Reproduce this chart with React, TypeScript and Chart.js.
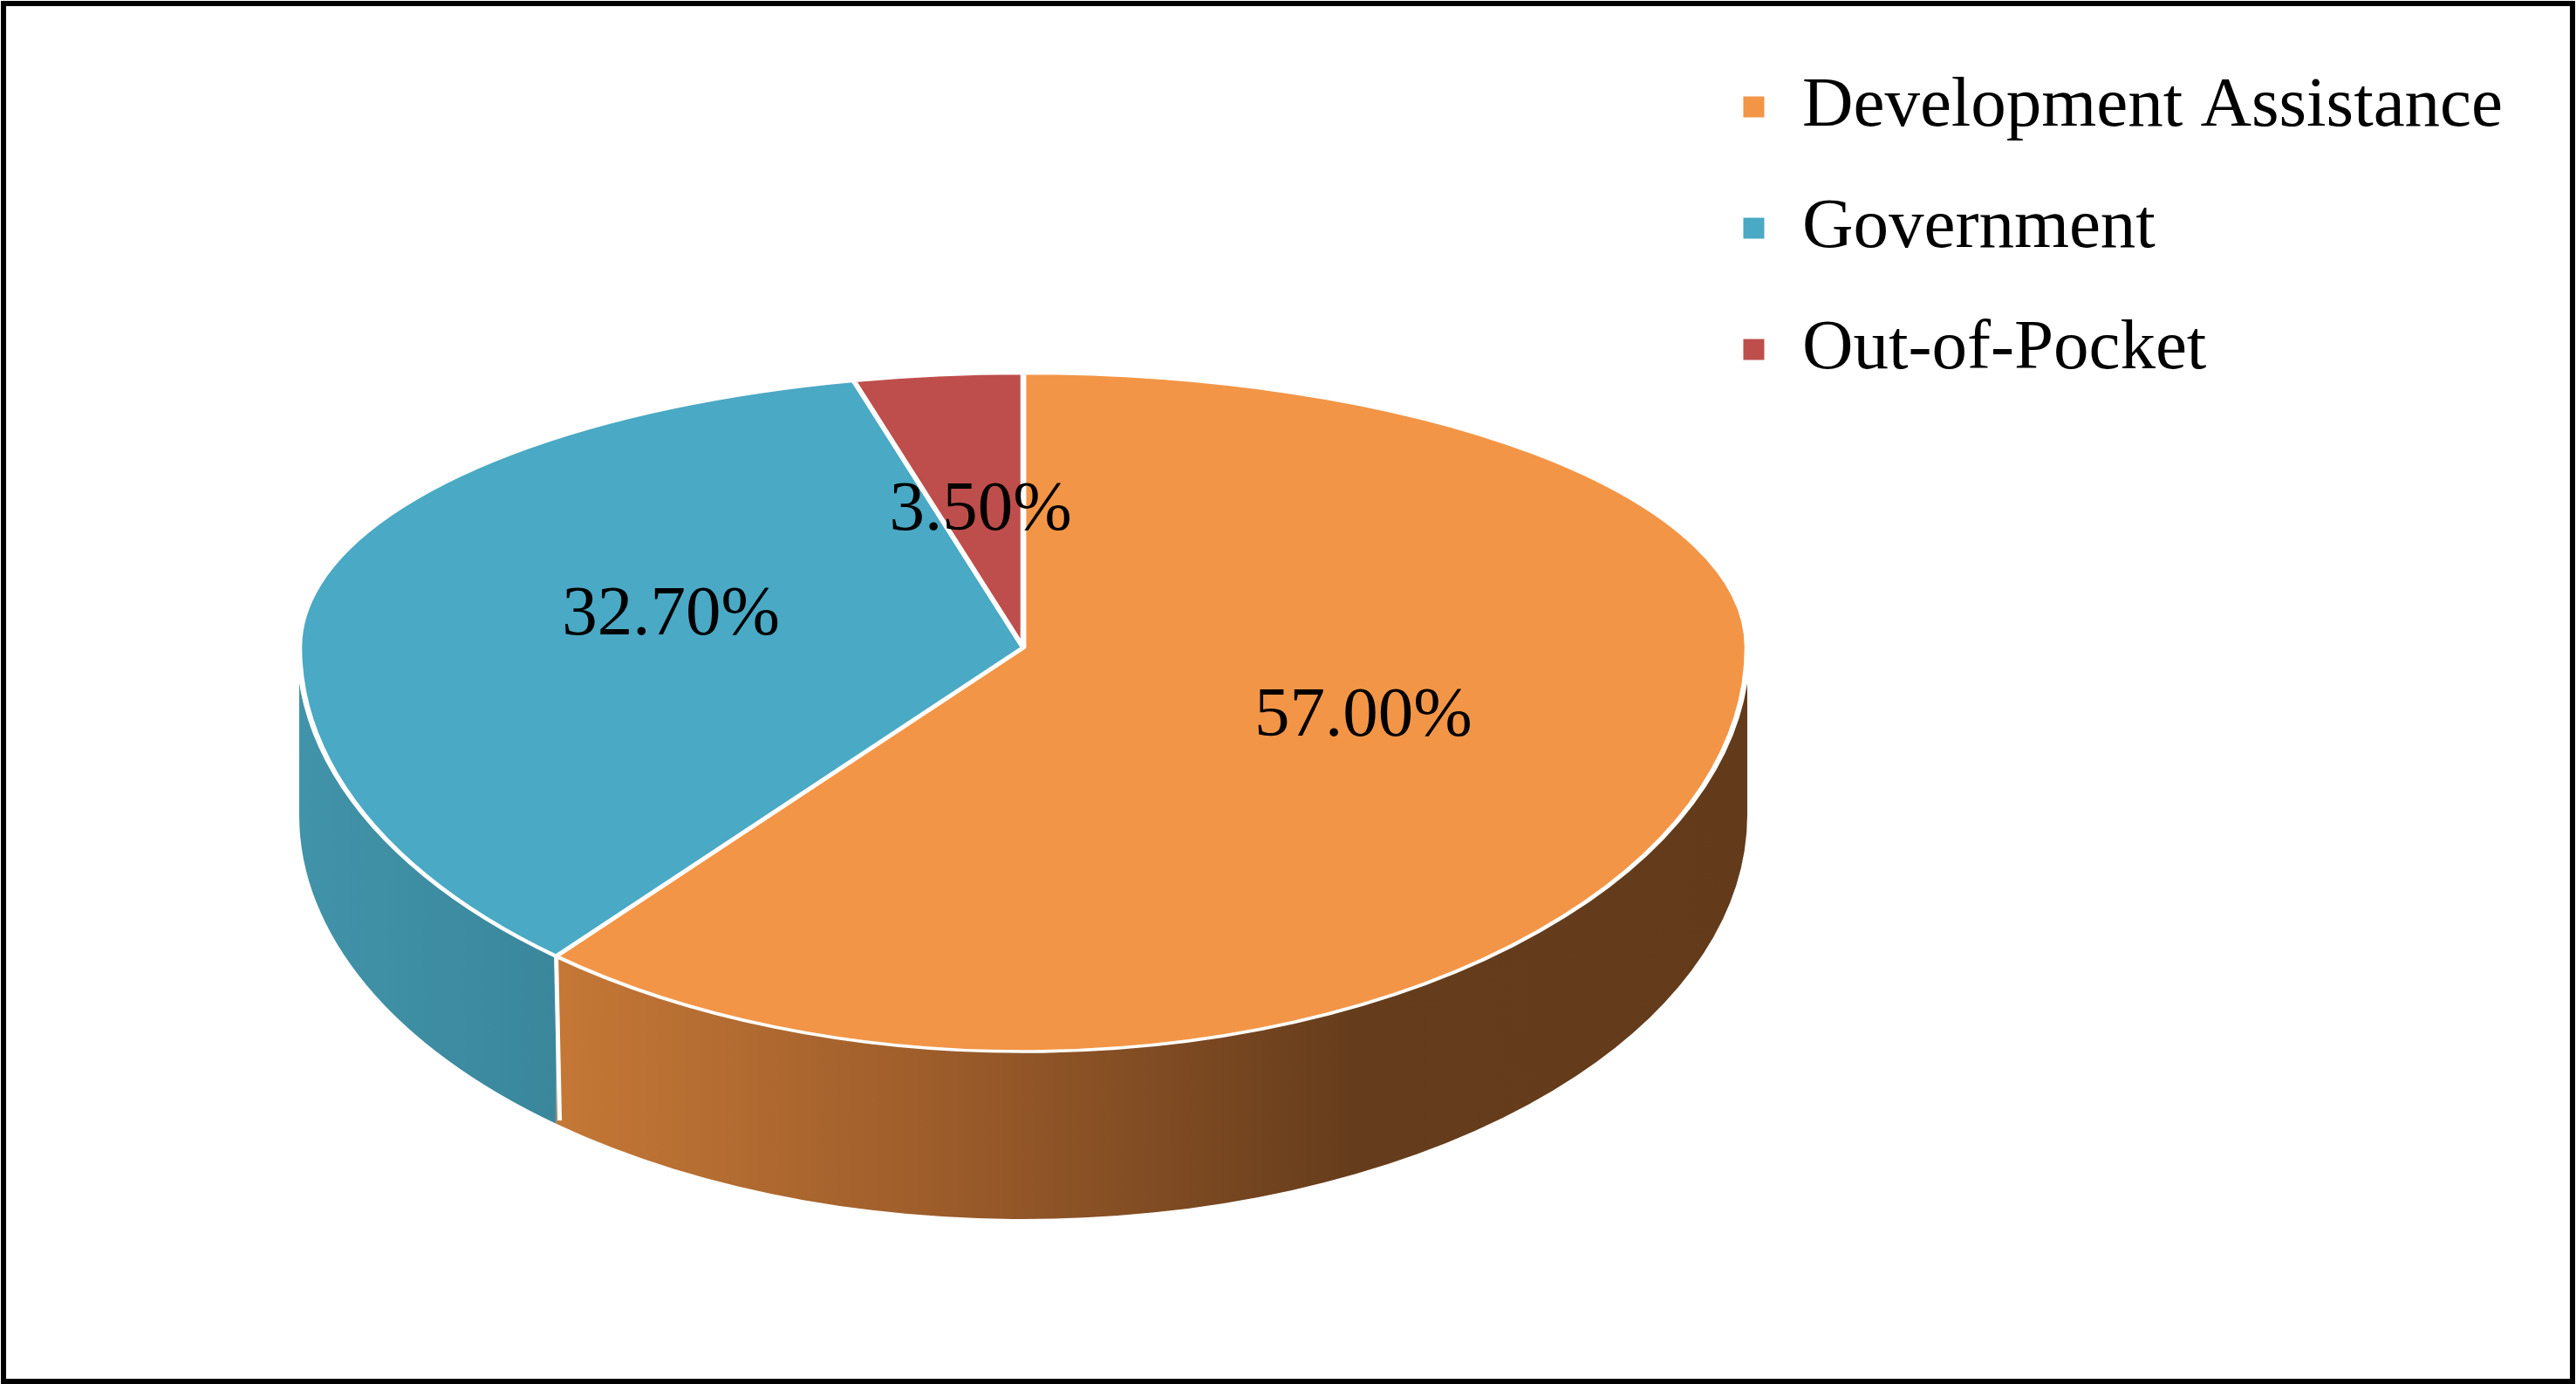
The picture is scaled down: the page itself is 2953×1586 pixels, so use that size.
import React, { useEffect, useRef } from 'react';
import Chart from 'chart.js/auto';

const categories = ['Development Assistance', 'Government', 'Out-of-Pocket'];
const shares = [57.0, 32.7, 3.5];
const topColors = ['#F39546', '#4AA9C4', '#BE4E4C'];
// colours of the visible rim, left to right
const sideColors = [
  ['#C57836', '#9B5B2A', '#663D1C', '#633B1B'],
  ['#4193A9', '#3A879C'],
  ['#8E3A38', '#7A3230'],
];

const W = 2953;
const H = 1586;
const FONT = '"Liberation Serif", "Times New Roman", serif';

// where the tilted pie sits on the page (back half is flatter than the front)
const PIE = { cx: 1173, cy: 742, rx: 830, ryBack: 314, ryFront: 463, depth: 192 };

const tiltPlugin = {
  id: 'tilt',
  beforeDatasetsDraw(chart: any) {
    const ctx: CanvasRenderingContext2D = chart.ctx;
    const arcs = chart.getDatasetMeta(0).data;
    if (!arcs.length) return false;
    const { x: ax, y: ay, outerRadius: R } = arcs[0];
    const { cx, cy, rx, ryBack, ryFront, depth } = PIE;

    // rim of the front half
    arcs.forEach((arc: any, i: number) => {
      const a1 = Math.max(arc.startAngle, 0);
      const a2 = Math.min(arc.endAngle, Math.PI);
      if (a2 <= a1) return;
      const xl = cx + rx * Math.cos(a2);
      const xr = cx + rx * Math.cos(a1);
      const grad = ctx.createLinearGradient(xl, 0, xr, 0);
      const cols = sideColors[i];
      cols.forEach((c, k) => grad.addColorStop(k / (cols.length - 1), c));
      ctx.save();
      ctx.beginPath();
      ctx.ellipse(cx, cy, rx, ryFront, 0, a1, a2, false);
      ctx.ellipse(cx, cy + depth, rx, ryFront, 0, a2, a1, true);
      ctx.closePath();
      ctx.fillStyle = grad;
      ctx.fill();
      ctx.restore();
    });

    // white seams between rim pieces
    arcs.forEach((arc: any) => {
      const b = arc.endAngle;
      if (b <= 0 || b >= Math.PI) return;
      const x = cx + rx * Math.cos(b);
      const y = cy + ryFront * Math.sin(b);
      ctx.save();
      ctx.strokeStyle = '#fff';
      ctx.lineWidth = 5;
      ctx.beginPath();
      ctx.moveTo(x, y);
      ctx.lineTo(x + 4, y + depth * 0.98);
      ctx.stroke();
      ctx.restore();
    });

    // top face, drawn by the arc elements in two squashed halves
    const pass = (back: boolean) => {
      ctx.save();
      ctx.beginPath();
      if (back) ctx.rect(0, 0, chart.width, cy);
      else ctx.rect(0, cy, chart.width, chart.height - cy);
      ctx.clip();
      ctx.translate(cx, cy);
      ctx.scale(rx / R, (back ? ryBack : ryFront) / R);
      ctx.translate(-ax, -ay);
      arcs.forEach((a: any) => a.draw(ctx));
      ctx.restore();
    };
    pass(true);
    pass(false);
    return false;
  },
  afterDraw(chart: any) {
    const ctx: CanvasRenderingContext2D = chart.ctx;
    const arcs = chart.getDatasetMeta(0).data;
    const values = chart.data.datasets[0].data;
    const { cx, cy, rx, ryBack, ryFront } = PIE;
    ctx.save();
    ctx.font = `81px ${FONT}`;
    ctx.fillStyle = '#000';
    ctx.textAlign = 'center';
    ctx.textBaseline = 'middle';
    arcs.forEach((arc: any, i: number) => {
      const mid = (arc.startAngle + arc.endAngle) / 2;
      const c = Math.cos(mid);
      const s = Math.sin(mid);
      const x = cx + 0.5 * rx * c;
      const y = cy + 0.5 * (s < 0 ? ryBack : ryFront) * s;
      ctx.fillText(Number(values[i]).toFixed(2) + '%', x, y);
    });
    ctx.restore();
  },
};

function App() {
  const chartRef = useRef<HTMLCanvasElement>(null);
  const chartInstance = useRef<Chart>();

  useEffect(() => {
    if (chartRef.current) {
      const ctx = chartRef.current.getContext('2d');
      if (ctx) {
        if (chartInstance.current) {
          chartInstance.current.destroy();
        }
        chartInstance.current = new Chart(ctx, {
          type: 'pie',
          data: {
            labels: categories,
            datasets: [{
              data: shares,
              backgroundColor: topColors,
              borderColor: '#ffffff',
              borderWidth: 6,
            }]
          },
          options: {
            animation: false,
            responsive: true,
            maintainAspectRatio: false,
            events: [],
            layout: { padding: { top: 24, right: 74, bottom: 20, left: 20 } },
            plugins: {
              tooltip: { enabled: false },
              legend: {
                position: 'right',
                align: 'start',
                labels: {
                  boxWidth: 30,
                  boxHeight: 30,
                  padding: 58,
                  color: '#000',
                  font: { family: FONT, size: 81 },
                },
              },
            },
          },
          plugins: [tiltPlugin],
        } as any);
      }
    }
    return () => {
      if (chartInstance.current) {
        chartInstance.current.destroy();
        chartInstance.current = undefined;
      }
    };
  }, []);

  return (
    <>
      <div style={{ position: 'fixed', left: 0, top: 0, width: W, height: H, background: '#fff' }}>
        <canvas ref={chartRef}></canvas>
      </div>
      {/* outer frame */}
      <div
        style={{
          position: 'fixed', left: 1, top: 1, width: W - 2, height: H - 1,
          border: '6px solid #000', boxSizing: 'border-box', pointerEvents: 'none',
        }}
      />
    </>
  );
}

export default App;
